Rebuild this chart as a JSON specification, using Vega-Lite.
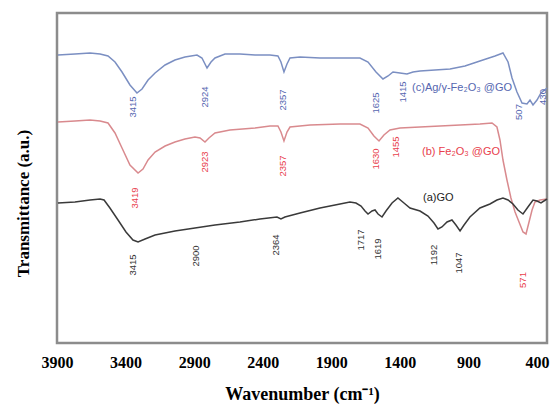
{
  "$schema": "https://vega.github.io/schema/vega-lite/v6.json",
  "width": 490,
  "height": 330,
  "autosize": {"type": "none"},
  "padding": {"left": 57, "top": 13, "right": 3, "bottom": 69},
  "background": "white",
  "config": {
    "view": {"stroke": "#8c8c8c", "strokeWidth": 2.5},
    "axis": {"grid": false, "domain": false, "ticks": false}
  },
  "datasets": {
    "spectra": [
      {"wn":3893,"t":288,"s":"c"},{"wn":3769,"t":289,"s":"c"},{"wn":3659,"t":290,"s":"c"},{"wn":3586,"t":289,"s":"c"},{"wn":3528,"t":287,"s":"c"},{"wn":3477,"t":281,"s":"c"},{"wn":3426,"t":271,"s":"c"},{"wn":3368,"t":258,"s":"c"},{"wn":3317,"t":250,"s":"c"},{"wn":3280,"t":254,"s":"c"},{"wn":3236,"t":263,"s":"c"},{"wn":3185,"t":270,"s":"c"},{"wn":3112,"t":278,"s":"c"},{"wn":3040,"t":283,"s":"c"},{"wn":2967,"t":286,"s":"c"},{"wn":2879,"t":288,"s":"c"},{"wn":2843,"t":285,"s":"c"},{"wn":2806,"t":275,"s":"c"},{"wn":2777,"t":281,"s":"c"},{"wn":2748,"t":285,"s":"c"},{"wn":2675,"t":289,"s":"c"},{"wn":2566,"t":289,"s":"c"},{"wn":2456,"t":288,"s":"c"},{"wn":2347,"t":288,"s":"c"},{"wn":2289,"t":287,"s":"c"},{"wn":2267,"t":281,"s":"c"},{"wn":2245,"t":271,"s":"c"},{"wn":2223,"t":279,"s":"c"},{"wn":2201,"t":285,"s":"c"},{"wn":2128,"t":286,"s":"c"},{"wn":1982,"t":285,"s":"c"},{"wn":1836,"t":285,"s":"c"},{"wn":1691,"t":285,"s":"c"},{"wn":1632,"t":281,"s":"c"},{"wn":1574,"t":271,"s":"c"},{"wn":1523,"t":264,"s":"c"},{"wn":1486,"t":267,"s":"c"},{"wn":1450,"t":271,"s":"c"},{"wn":1399,"t":270,"s":"c"},{"wn":1348,"t":269,"s":"c"},{"wn":1304,"t":271,"s":"c"},{"wn":1253,"t":272,"s":"c"},{"wn":1144,"t":273,"s":"c"},{"wn":1034,"t":274,"s":"c"},{"wn":925,"t":277,"s":"c"},{"wn":816,"t":282,"s":"c"},{"wn":706,"t":287,"s":"c"},{"wn":648,"t":290,"s":"c"},{"wn":611,"t":281,"s":"c"},{"wn":582,"t":265,"s":"c"},{"wn":546,"t":251,"s":"c"},{"wn":509,"t":240,"s":"c"},{"wn":473,"t":239,"s":"c"},{"wn":451,"t":243,"s":"c"},{"wn":429,"t":238,"s":"c"},{"wn":400,"t":243,"s":"c"},{"wn":371,"t":250,"s":"c"},{"wn":327,"t":255,"s":"c"},
      {"wn":3893,"t":221,"s":"b"},{"wn":3769,"t":222,"s":"b"},{"wn":3659,"t":223,"s":"b"},{"wn":3586,"t":222,"s":"b"},{"wn":3528,"t":220,"s":"b"},{"wn":3477,"t":210,"s":"b"},{"wn":3426,"t":195,"s":"b"},{"wn":3368,"t":178,"s":"b"},{"wn":3309,"t":170,"s":"b"},{"wn":3273,"t":174,"s":"b"},{"wn":3236,"t":183,"s":"b"},{"wn":3185,"t":191,"s":"b"},{"wn":3112,"t":197,"s":"b"},{"wn":3040,"t":201,"s":"b"},{"wn":2967,"t":204,"s":"b"},{"wn":2894,"t":206,"s":"b"},{"wn":2857,"t":205,"s":"b"},{"wn":2821,"t":201,"s":"b"},{"wn":2792,"t":205,"s":"b"},{"wn":2748,"t":210,"s":"b"},{"wn":2639,"t":213,"s":"b"},{"wn":2456,"t":215,"s":"b"},{"wn":2347,"t":217,"s":"b"},{"wn":2289,"t":217,"s":"b"},{"wn":2267,"t":211,"s":"b"},{"wn":2245,"t":202,"s":"b"},{"wn":2223,"t":211,"s":"b"},{"wn":2201,"t":216,"s":"b"},{"wn":2055,"t":218,"s":"b"},{"wn":1836,"t":219,"s":"b"},{"wn":1691,"t":219,"s":"b"},{"wn":1632,"t":215,"s":"b"},{"wn":1589,"t":207,"s":"b"},{"wn":1552,"t":202,"s":"b"},{"wn":1516,"t":208,"s":"b"},{"wn":1472,"t":213,"s":"b"},{"wn":1399,"t":215,"s":"b"},{"wn":1253,"t":216,"s":"b"},{"wn":1107,"t":217,"s":"b"},{"wn":961,"t":218,"s":"b"},{"wn":816,"t":219,"s":"b"},{"wn":728,"t":220,"s":"b"},{"wn":692,"t":216,"s":"b"},{"wn":670,"t":203,"s":"b"},{"wn":648,"t":183,"s":"b"},{"wn":619,"t":163,"s":"b"},{"wn":590,"t":145,"s":"b"},{"wn":560,"t":131,"s":"b"},{"wn":531,"t":121,"s":"b"},{"wn":502,"t":111,"s":"b"},{"wn":480,"t":109,"s":"b"},{"wn":458,"t":121,"s":"b"},{"wn":436,"t":133,"s":"b"},{"wn":415,"t":141,"s":"b"},{"wn":378,"t":143,"s":"b"},{"wn":327,"t":144,"s":"b"},
      {"wn":3893,"t":140,"s":"a"},{"wn":3769,"t":141,"s":"a"},{"wn":3659,"t":143,"s":"a"},{"wn":3586,"t":144,"s":"a"},{"wn":3557,"t":143,"s":"a"},{"wn":3514,"t":135,"s":"a"},{"wn":3455,"t":123,"s":"a"},{"wn":3397,"t":111,"s":"a"},{"wn":3346,"t":103,"s":"a"},{"wn":3309,"t":101,"s":"a"},{"wn":3258,"t":104,"s":"a"},{"wn":3185,"t":108,"s":"a"},{"wn":3040,"t":112,"s":"a"},{"wn":2894,"t":115,"s":"a"},{"wn":2748,"t":118,"s":"a"},{"wn":2566,"t":121,"s":"a"},{"wn":2420,"t":124,"s":"a"},{"wn":2296,"t":126,"s":"a"},{"wn":2267,"t":124,"s":"a"},{"wn":2238,"t":126,"s":"a"},{"wn":2128,"t":130,"s":"a"},{"wn":1982,"t":135,"s":"a"},{"wn":1836,"t":139,"s":"a"},{"wn":1764,"t":141,"s":"a"},{"wn":1720,"t":140,"s":"a"},{"wn":1683,"t":137,"s":"a"},{"wn":1654,"t":132,"s":"a"},{"wn":1632,"t":129,"s":"a"},{"wn":1603,"t":132,"s":"a"},{"wn":1581,"t":133,"s":"a"},{"wn":1559,"t":129,"s":"a"},{"wn":1530,"t":126,"s":"a"},{"wn":1501,"t":132,"s":"a"},{"wn":1457,"t":140,"s":"a"},{"wn":1414,"t":145,"s":"a"},{"wn":1370,"t":140,"s":"a"},{"wn":1326,"t":135,"s":"a"},{"wn":1253,"t":132,"s":"a"},{"wn":1195,"t":127,"s":"a"},{"wn":1151,"t":120,"s":"a"},{"wn":1122,"t":114,"s":"a"},{"wn":1093,"t":116,"s":"a"},{"wn":1056,"t":121,"s":"a"},{"wn":1020,"t":123,"s":"a"},{"wn":991,"t":118,"s":"a"},{"wn":961,"t":112,"s":"a"},{"wn":932,"t":118,"s":"a"},{"wn":889,"t":126,"s":"a"},{"wn":816,"t":135,"s":"a"},{"wn":743,"t":139,"s":"a"},{"wn":692,"t":143,"s":"a"},{"wn":648,"t":145,"s":"a"},{"wn":611,"t":143,"s":"a"},{"wn":575,"t":139,"s":"a"},{"wn":539,"t":133,"s":"a"},{"wn":502,"t":129,"s":"a"},{"wn":466,"t":136,"s":"a"},{"wn":429,"t":143,"s":"a"},{"wn":400,"t":142,"s":"a"},{"wn":371,"t":140,"s":"a"},{"wn":327,"t":144,"s":"a"}
    ],
    "peaks": [
      {"wn":3346,"t":236,"label":"3415","s":"c"},{"wn":2821,"t":246,"label":"2924","s":"c"},{"wn":2252,"t":243,"label":"2357","s":"c"},{"wn":1574,"t":240,"label":"1625","s":"c"},{"wn":1377,"t":251,"label":"1415","s":"c"},{"wn":531,"t":231,"label":"507","s":"c"},{"wn":356,"t":246,"label":"430","s":"c"},
      {"wn":3331,"t":145,"label":"3419","s":"b"},{"wn":2821,"t":181,"label":"2923","s":"b"},{"wn":2252,"t":177,"label":"2357","s":"b"},{"wn":1574,"t":184,"label":"1630","s":"b"},{"wn":1428,"t":196,"label":"1455","s":"b"},{"wn":502,"t":63,"label":"571","s":"b"},
      {"wn":3346,"t":78,"label":"3415","s":"a"},{"wn":2886,"t":87,"label":"2900","s":"a"},{"wn":2303,"t":98,"label":"2364","s":"a"},{"wn":1683,"t":103,"label":"1717","s":"a"},{"wn":1559,"t":94,"label":"1619","s":"a"},{"wn":1151,"t":88,"label":"1192","s":"a"},{"wn":969,"t":80,"label":"1047","s":"a"}
    ],
    "names": [
      {"wn":1311,"t":255,"label":"(c)Ag/γ-Fe₂O₃ @GO","s":"c"},
      {"wn":1238,"t":191,"label":"(b) Fe₂O₃ @GO","s":"b"},
      {"wn":1231,"t":145,"label":"(a)GO","s":"a"}
    ]
  },
  "layer": [
    {
      "data": {"name": "spectra"},
      "mark": {"type": "line", "strokeWidth": 1.5, "interpolate": "linear"},
      "encoding": {
        "x": {
          "field": "wn", "type": "quantitative",
          "scale": {"domain": [3900, 327], "nice": false, "zero": false},
          "axis": {
            "values": [3900, 3400, 2900, 2400, 1900, 1400, 900, 400], "format": "d",
            "labelFont": "Liberation Serif", "labelFontWeight": "bold", "labelFontSize": 16,
            "labelColor": "#000", "labelPadding": 11, "labelFlush": false, "labelOverlap": false,
            "title": "Wavenumber (cm⁻¹)", "titleFont": "Liberation Serif", "titleFontWeight": "bold",
            "titleFontSize": 18, "titleColor": "#000", "titlePadding": 15
          }
        },
        "y": {
          "field": "t", "type": "quantitative",
          "scale": {"domain": [0, 330], "nice": false, "zero": false},
          "axis": {
            "labels": false, "title": "Transmittance (a.u.)", "titleFont": "Liberation Serif",
            "titleFontWeight": "bold", "titleFontSize": 17, "titleColor": "#000",
            "titlePadding": 25, "titleY": 190
          }
        },
        "color": {
          "field": "s", "type": "nominal", "legend": null,
          "scale": {"domain": ["a", "b", "c"], "range": ["#3a3a3a", "#d98a8e", "#7b8fc2"]}
        }
      }
    },
    {
      "data": {"name": "peaks"},
      "mark": {"type": "text", "angle": 270, "font": "Liberation Sans", "fontSize": 9.5, "align": "center", "baseline": "middle"},
      "encoding": {
        "x": {"field": "wn", "type": "quantitative"},
        "y": {"field": "t", "type": "quantitative"},
        "text": {"field": "label"},
        "color": {
          "field": "s", "type": "nominal", "legend": null,
          "scale": {"domain": ["a", "b", "c"], "range": ["#333333", "#e8404c", "#5566b0"]}
        }
      }
    },
    {
      "data": {"name": "names"},
      "mark": {"type": "text", "font": "Liberation Sans", "fontSize": 11, "align": "left", "baseline": "middle"},
      "encoding": {
        "x": {"field": "wn", "type": "quantitative"},
        "y": {"field": "t", "type": "quantitative"},
        "text": {"field": "label"},
        "color": {
          "field": "s", "type": "nominal", "legend": null,
          "scale": {"domain": ["a", "b", "c"], "range": ["#222222", "#e8404c", "#5566b0"]}
        }
      }
    }
  ],
  "resolve": {"scale": {"color": "independent"}}
}
